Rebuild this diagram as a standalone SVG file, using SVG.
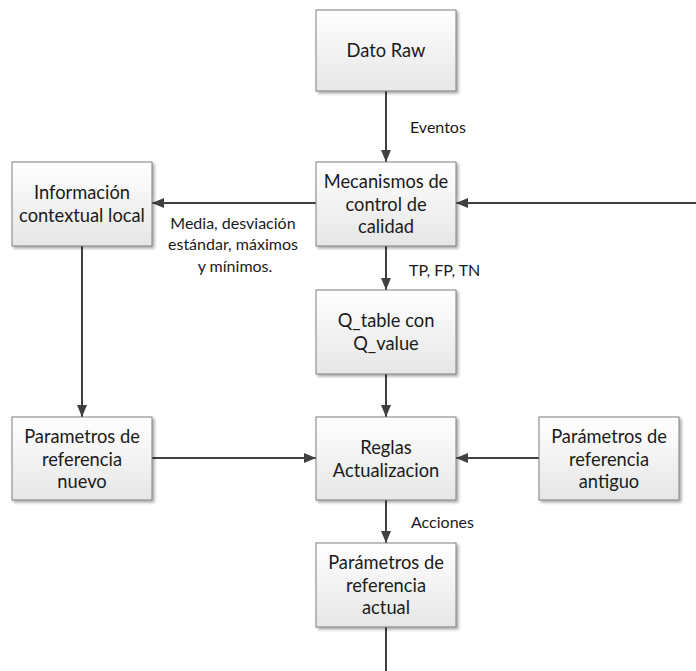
<svg xmlns="http://www.w3.org/2000/svg" width="696" height="671" viewBox="0 0 696 671">
  <defs>
    <linearGradient id="boxFill" x1="0" y1="0" x2="0" y2="1">
      <stop offset="0" stop-color="#ffffff"/>
      <stop offset="1" stop-color="#e6e6e6"/>
    </linearGradient>
    <filter id="shadow" x="-10%" y="-10%" width="125%" height="125%">
      <feGaussianBlur in="SourceAlpha" stdDeviation="1.5"/>
      <feOffset dx="2" dy="2" result="b"/>
      <feComponentTransfer><feFuncA type="linear" slope="0.35"/></feComponentTransfer>
      <feMerge><feMergeNode/><feMergeNode in="SourceGraphic"/></feMerge>
    </filter>
    <marker id="arrow" viewBox="0 0 12 10" refX="12" refY="5" markerWidth="12" markerHeight="10" markerUnits="userSpaceOnUse" orient="auto">
      <path d="M0,0 L12,5 L0,10 Z" fill="#404040"/>
    </marker>
  </defs>
  <style>
    .box { fill: url(#boxFill); stroke: #7f7f7f; stroke-width: 1; filter: url(#shadow); }
    .label { font-family: Lato, "Liberation Sans", sans-serif; font-size: 18.3px; fill: #1a1a1a; text-anchor: middle; }
    .note { font-family: Lato, "Liberation Sans", sans-serif; font-size: 16px; fill: #1a1a1a; }
    .edge { fill: none; stroke: #404040; stroke-width: 2; }
    .edge.arr { marker-end: url(#arrow); }
  </style>

  <!-- connectors -->
  <g id="connectors">
    <line class="edge arr" x1="386" y1="91" x2="386" y2="162"/>
    <line class="edge arr" x1="316" y1="203" x2="152" y2="203"/>
    <line class="edge arr" x1="696" y1="203" x2="456" y2="203"/>
    <line class="edge arr" x1="386" y1="246" x2="386" y2="290"/>
    <line class="edge arr" x1="386" y1="374" x2="386" y2="417"/>
    <line class="edge arr" x1="82" y1="246" x2="82" y2="417"/>
    <line class="edge arr" x1="152" y1="458" x2="316" y2="458"/>
    <line class="edge arr" x1="539" y1="458" x2="456" y2="458"/>
    <line class="edge arr" x1="386" y1="500" x2="386" y2="543"/>
    <line class="edge" x1="386" y1="627" x2="386" y2="671"/>
    <text class="note" x="410" y="133">Eventos</text>
    <text class="note" x="409" y="276">TP, FP, TN</text>
    <text class="note" x="411" y="528">Acciones</text>
    <text class="note" text-anchor="middle">
      <tspan x="235" y="229">Media, desviación</tspan>
      <tspan x="235" y="250">estándar, máximos</tspan>
      <tspan x="235" y="272">y mínimos.</tspan>
    </text>
  </g>

  <g id="dato-raw">
    <rect class="box" x="316" y="10" width="140" height="81"/>
    <text class="label" x="386" y="57">Dato Raw</text>
  </g>

  <g id="mecanismos">
    <rect class="box" x="316" y="162" width="140" height="84"/>
    <text class="label"><tspan x="386" y="188">Mecanismos de</tspan><tspan x="386" y="211">control de</tspan><tspan x="386" y="233">calidad</tspan></text>
  </g>

  <g id="informacion">
    <rect class="box" x="12" y="162" width="140" height="84"/>
    <text class="label"><tspan x="82" y="199">Información</tspan><tspan x="82" y="222">contextual local</tspan></text>
  </g>

  <g id="q-table">
    <rect class="box" x="316" y="290" width="140" height="84"/>
    <text class="label"><tspan x="386" y="327">Q_table con</tspan><tspan x="386" y="350">Q_value</tspan></text>
  </g>

  <g id="parametros-nuevo">
    <rect class="box" x="12" y="417" width="140" height="83"/>
    <text class="label"><tspan x="82" y="443">Parametros de</tspan><tspan x="82" y="466">referencia</tspan><tspan x="82" y="488">nuevo</tspan></text>
  </g>

  <g id="reglas">
    <rect class="box" x="316" y="417" width="140" height="83"/>
    <text class="label"><tspan x="386" y="454">Reglas</tspan><tspan x="386" y="477">Actualizacion</tspan></text>
  </g>

  <g id="parametros-antiguo">
    <rect class="box" x="539" y="417" width="140" height="83"/>
    <text class="label"><tspan x="609" y="443">Parámetros de</tspan><tspan x="609" y="466">referencia</tspan><tspan x="609" y="488">antiguo</tspan></text>
  </g>

  <g id="parametros-actual">
    <rect class="box" x="316" y="543" width="140" height="84"/>
    <text class="label"><tspan x="386" y="569">Parámetros de</tspan><tspan x="386" y="592">referencia</tspan><tspan x="386" y="614">actual</tspan></text>
  </g>
</svg>
